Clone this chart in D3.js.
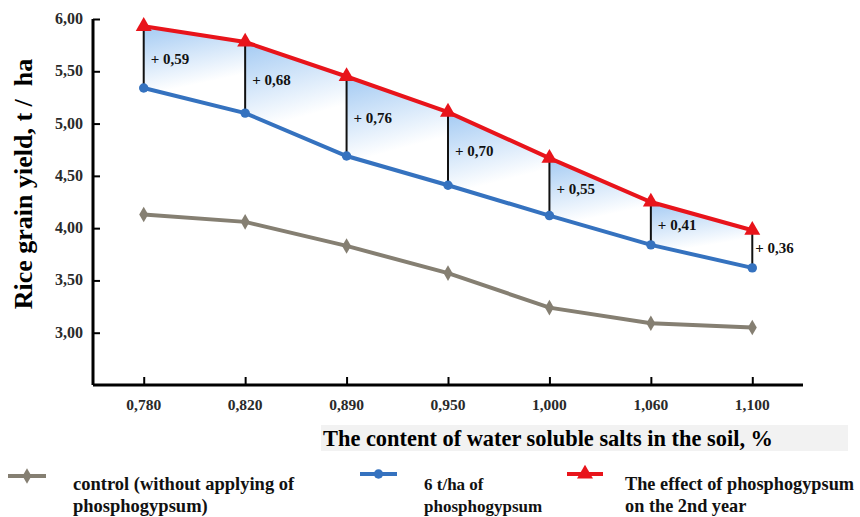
<!DOCTYPE html>
<html><head><meta charset="utf-8">
<script src="https://cdn.jsdelivr.net/npm/d3@7"></script>
<style>body{margin:0;background:#fff}svg{display:block}text{font-family:"Liberation Serif","Times New Roman",serif;font-weight:bold}</style>
</head><body><svg id="c" width="860" height="517"></svg>
<script>
const categories = ["0,780","0,820","0,890","0,950","1,000","1,060","1,100"];
const control = [4.13,4.06,3.83,3.57,3.24,3.09,3.05];
const phospho6 = [5.34,5.10,4.69,4.41,4.12,3.84,3.62];
const effect2nd = [5.93,5.78,5.45,5.11,4.67,4.25,3.98];
const diffLabels = ["+ 0,59","+ 0,68","+ 0,76","+ 0,70","+ 0,55","+ 0,41","+ 0,36"];
const yTicks = [3.0,3.5,4.0,4.5,5.0,5.5,6.0];
const legendLabels = [["control (without applying of","phosphogypsum)"],["6 t/ha of","phosphogypsum"],["The effect of phosphogypsum","on the 2nd year"]];

const svg = d3.select("#c");
const x = d3.scalePoint().domain(categories).range([93,803]).padding(0.5);
const y = d3.scaleLinear().domain([2.5,6.0]).range([385,19]);
const fmt = v => d3.format(".2f")(v).replace(".",",");

const defs = svg.append("defs");
const g = defs.append("linearGradient").attr("id","bandGrad").attr("x1",0).attr("y1",0).attr("x2",0.25).attr("y2",1);
g.append("stop").attr("offset","0%").attr("stop-color","#a3caf3");
g.append("stop").attr("offset","75%").attr("stop-color","#ffffff");

// band segments
for(let i=0;i<categories.length-1;i++){
  const c0=categories[i], c1=categories[i+1];
  const pts=[[x(c0),y(effect2nd[i])],[x(c1),y(effect2nd[i+1])],[x(c1),y(phospho6[i+1])],[x(c0),y(phospho6[i])]];
  svg.append("path").attr("d","M"+pts.join("L")+"Z").attr("fill","url(#bandGrad)");
}
// vertical lines
svg.selectAll(".vl").data(categories).join("line")
  .attr("x1",d=>x(d)).attr("x2",d=>x(d))
  .attr("y1",(d,i)=>y(effect2nd[i])).attr("y2",(d,i)=>y(phospho6[i]))
  .attr("stroke","#111").attr("stroke-width",2);
// diff labels
svg.selectAll(".dl").data(diffLabels).join("text")
  .attr("x",(d,i)=>x(categories[i])+(i===6?3:7))
  .attr("y",(d,i)=>(y(effect2nd[i])+y(phospho6[i]))/2+(i===6?4:7))
  .attr("font-size",15).attr("fill","#111").text(d=>d);

// axes
const ya = svg.append("g").attr("transform","translate(93,0)")
  .call(d3.axisRight(y).tickValues(yTicks).tickSize(7).tickFormat(""));
ya.select(".domain").attr("d","M0,19V385").attr("stroke-width",3).attr("stroke","#000");
ya.selectAll(".tick line").attr("stroke-width",2);
svg.selectAll(".yl").data(yTicks).join("text").attr("x",83).attr("y",d=>y(d)+5)
  .attr("text-anchor","end").attr("font-size",16).attr("fill","#2a2a2a").text(fmt);

const xa = svg.append("g").attr("transform","translate(0,385)")
  .call(d3.axisTop(x).tickSize(8).tickFormat(""));
xa.select(".domain").attr("d","M93,0H803").attr("stroke-width",3).attr("stroke","#000");
xa.selectAll(".tick line").attr("stroke-width",2);
svg.selectAll(".xl").data(categories).join("text").attr("x",d=>x(d)).attr("y",410)
  .attr("text-anchor","middle").attr("font-size",15.5).attr("fill","#2a2a2a").text(d=>d);

// lines
const line = vals => d3.line().x((d,i)=>x(categories[i])).y(d=>y(d))(vals);
const series = [
  {vals:control,color:"#857f72",sym:d3.symbolDiamond,size:70},
  {vals:phospho6,color:"#3572bf",sym:d3.symbolCircle,size:70},
  {vals:effect2nd,color:"#e8141b",sym:d3.symbolTriangle,size:110}
];
series.forEach(s=>{
  svg.append("path").attr("d",line(s.vals)).attr("fill","none").attr("stroke",s.color).attr("stroke-width",4);
  svg.selectAll(null).data(s.vals).join("path")
    .attr("transform",(d,i)=>`translate(${x(categories[i])},${y(d)})`)
    .attr("d",d3.symbol().type(s.sym).size(s.size)).attr("fill",s.color);
});

// y title
svg.append("text").attr("transform","translate(32,184) rotate(-90)").attr("text-anchor","middle")
  .attr("font-size",26).attr("fill","#000").style("white-space","pre").text("Rice grain yield, t /  ha");
// x title
svg.append("rect").attr("x",321).attr("y",425).attr("width",527).attr("height",26).attr("fill","#f2f2f2");
svg.append("text").attr("x",323).attr("y",446).attr("font-size",23).attr("fill","#000")
  .attr("textLength",450).attr("lengthAdjust","spacingAndGlyphs").text("The content of water soluble salts in the soil, %");

// legend
const lg = [{x0:8,x1:46,tx:73,ly:476,fs:18.5},{x0:360,x1:397,tx:424,ly:474,fs:17},{x0:567,x1:603,tx:625,ly:474,fs:18.3}];
series.forEach((s,i)=>{
  const L=lg[i];
  svg.append("line").attr("x1",L.x0).attr("x2",L.x1).attr("y1",L.ly).attr("y2",L.ly).attr("stroke",s.color).attr("stroke-width",4);
  svg.append("path").attr("transform",`translate(${(L.x0+L.x1)/2},${L.ly})`).attr("d",d3.symbol().type(s.sym).size(s.size)).attr("fill",s.color);
  const t=svg.append("text").attr("x",L.tx).attr("y",490).attr("font-size",L.fs).attr("fill","#111");
  legendLabels[i].forEach((ln,j)=>t.append("tspan").attr("x",L.tx).attr("dy",j?22:0).text(ln));
});
</script></body></html>
